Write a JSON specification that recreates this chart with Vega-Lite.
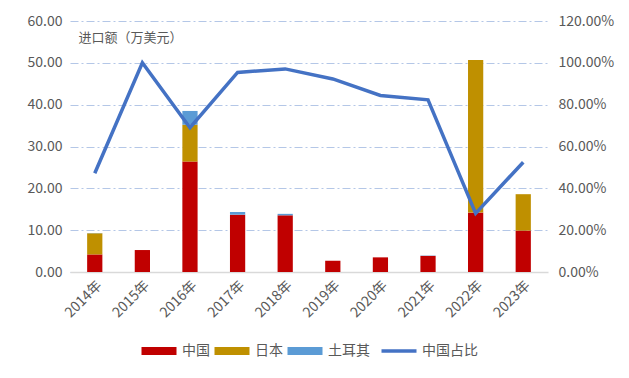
{
  "$schema": "https://vega.github.io/schema/vega-lite/v6.json",
  "width": 478,
  "height": 251,
  "autosize": {"type": "none"},
  "padding": {"left": 70, "top": 21, "right": 81, "bottom": 106},
  "background": "white",
  "config": {
    "font": "Noto Sans CJK SC",
    "view": {"stroke": null},
    "axis": {"labelFont": "Noto Sans CJK SC", "labelColor": "#595959", "titleFont": "Noto Sans CJK SC"},
    "legend": {"labelFont": "Noto Sans CJK SC"}
  },
  "datasets": {
    "bars": [
      {"year": "2014年", "country": "中国", "value": 4.2, "k": 1},
      {"year": "2014年", "country": "日本", "value": 5.05, "k": 2},
      {"year": "2014年", "country": "土耳其", "value": 0.05, "k": 3},
      {"year": "2015年", "country": "中国", "value": 5.25, "k": 1},
      {"year": "2016年", "country": "中国", "value": 26.4, "k": 1},
      {"year": "2016年", "country": "日本", "value": 8.8, "k": 2},
      {"year": "2016年", "country": "土耳其", "value": 3.3, "k": 3},
      {"year": "2017年", "country": "中国", "value": 13.7, "k": 1},
      {"year": "2017年", "country": "土耳其", "value": 0.65, "k": 3},
      {"year": "2018年", "country": "中国", "value": 13.55, "k": 1},
      {"year": "2018年", "country": "土耳其", "value": 0.35, "k": 3},
      {"year": "2019年", "country": "中国", "value": 2.7, "k": 1},
      {"year": "2020年", "country": "中国", "value": 3.5, "k": 1},
      {"year": "2021年", "country": "中国", "value": 3.85, "k": 1},
      {"year": "2021年", "country": "土耳其", "value": 0.08, "k": 3},
      {"year": "2022年", "country": "中国", "value": 14.2, "k": 1},
      {"year": "2022年", "country": "日本", "value": 36.5, "k": 2},
      {"year": "2023年", "country": "中国", "value": 9.9, "k": 1},
      {"year": "2023年", "country": "日本", "value": 8.7, "k": 2}
    ],
    "ratio": [
      {"year": "2014年", "share": 0.472},
      {"year": "2015年", "share": 1.0},
      {"year": "2016年", "share": 0.69},
      {"year": "2017年", "share": 0.954},
      {"year": "2018年", "share": 0.971},
      {"year": "2019年", "share": 0.923},
      {"year": "2020年", "share": 0.844},
      {"year": "2021年", "share": 0.823},
      {"year": "2022年", "share": 0.28},
      {"year": "2023年", "share": 0.525}
    ]
  },
  "encoding": {
    "x": {
      "field": "year",
      "type": "nominal",
      "sort": null,
      "scale": {"paddingInner": 0.68, "paddingOuter": 0.36},
      "axis": {
        "title": null,
        "labelAngle": -45,
        "labelFontSize": 14,
        "labelColor": "#595959",
        "ticks": false,
        "domainColor": "#D9D9D9",
        "domainWidth": 1.5,
        "labelPadding": 6
      }
    }
  },
  "layer": [
    {
      "data": {"name": "bars"},
      "mark": {"type": "bar"},
      "encoding": {
        "y": {
          "field": "value",
          "type": "quantitative",
          "stack": "zero",
          "scale": {"domain": [0, 60], "nice": false},
          "axis": {
            "values": [0, 10, 20, 30, 40, 50, 60],
            "format": ".2f",
            "labelFontSize": 14,
            "labelPadding": 8,
            "domain": false,
            "ticks": false,
            "grid": true,
            "gridColor": "#B4C7E7",
            "gridDash": [8, 3, 2, 3],
            "gridWidth": 1,
            "title": "进口额（万美元）",
            "titleAngle": 0,
            "titleAlign": "left",
            "titleBaseline": "middle",
            "titleX": 8,
            "titleY": 16,
            "titleFontSize": 13,
            "titleFontWeight": "normal",
            "titleColor": "#595959"
          }
        },
        "color": {
          "field": "country",
          "type": "nominal",
          "scale": {
            "domain": ["中国", "日本", "土耳其", "中国占比"],
            "range": ["#C00000", "#BF9000", "#5B9BD5", "#4472C4"]
          },
          "legend": {
            "title": null,
            "orient": "none",
            "direction": "horizontal",
            "legendX": 82,
            "legendY": 323,
            "symbolSize": 1225,
            "labelFontSize": 14,
            "labelColor": "#595959",
            "labelOffset": 16,
            "columnPadding": 4,
            "encode": {
              "symbols": {
                "update": {
                  "shape": {"signal": "datum.label === '中国占比' ? 'M-1,0H1' : 'M-1,-0.23H1V0.23H-1Z'"},
                  "fill": {"signal": "datum.label === '中国占比' ? 'transparent' : scale('color', datum.value)"},
                  "stroke": {"signal": "scale('color', datum.value)"},
                  "strokeWidth": {"signal": "datum.label === '中国占比' ? 3.5 : 0"},
                  "opacity": {"value": 1}
                }
              }
            }
          }
        },
        "order": {"field": "k", "type": "quantitative"}
      }
    },
    {
      "data": {"name": "ratio"},
      "mark": {"type": "line", "strokeWidth": 3.5, "strokeJoin": "miter"},
      "encoding": {
        "y": {
          "field": "share",
          "type": "quantitative",
          "scale": {"domain": [0, 1.2], "nice": false},
          "axis": {
            "orient": "right",
            "values": [0, 0.2, 0.4, 0.6, 0.8, 1.0, 1.2],
            "format": ".2%",
            "labelFontSize": 14,
            "labelPadding": 10,
            "domain": false,
            "ticks": false,
            "grid": false,
            "title": null
          }
        },
        "color": {"datum": "中国占比"}
      }
    }
  ],
  "resolve": {"scale": {"y": "independent"}}
}
